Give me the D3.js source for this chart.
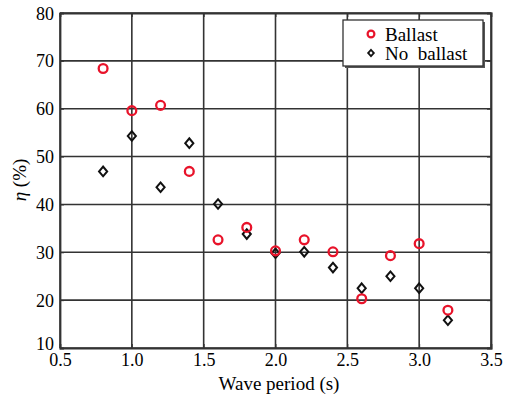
<!DOCTYPE html>
<html>
<head>
<meta charset="utf-8">
<script src="https://cdn.jsdelivr.net/npm/d3@7"></script>
<style>
  body { margin: 0; background: #fff; }
</style>
</head>
<body>
<svg id="chart" width="509" height="396"></svg>
<script>
// wave periods (s)
const periods = [0.8, 1.0, 1.2, 1.4, 1.6, 1.8, 2.0, 2.2, 2.4, 2.6, 2.8, 3.0, 3.2];
// efficiency (%) with ballast
const ballast = [68.4, 59.6, 60.7, 46.9, 32.6, 35.2, 30.3, 32.6, 30.1, 20.3, 29.3, 31.8, 17.9];
// efficiency (%) without ballast
const noBallast = [46.9, 54.3, 43.6, 52.8, 40.1, 33.8, 29.8, 30.1, 26.8, 22.5, 25.0, 22.5, 15.8];

const xTicks = [0.5, 1.0, 1.5, 2.0, 2.5, 3.0, 3.5];
const yTicks = [10, 20, 30, 40, 50, 60, 70, 80];
const seriesNames = ["Ballast", "No  ballast"];

const FONT = "'Liberation Serif', 'DejaVu Serif', serif";

const svg = d3.select("svg#chart");
const plotL = 60, plotR = 491, plotT = 13, plotB = 348;

const x = d3.scaleLinear().domain([0.5, 3.5]).range([plotL, plotR]);
const y = d3.scaleLinear().domain([10, 80]).range([plotB, plotT]);

// grid lines
const grid = svg.append("g").attr("stroke", "#333").attr("stroke-width", 1.6);
grid.selectAll(".gx").data(xTicks).enter().append("line")
    .attr("x1", d => x(d)).attr("x2", d => x(d))
    .attr("y1", plotT).attr("y2", plotB);
grid.selectAll(".gy").data(yTicks).enter().append("line")
    .attr("x1", plotL).attr("x2", plotR)
    .attr("y1", d => y(d)).attr("y2", d => y(d));

// axes
const xAxis = svg.append("g")
    .attr("transform", `translate(0,${plotB})`)
    .call(d3.axisBottom(x).tickValues(xTicks).tickFormat(d3.format(".1f")).tickSize(-4).tickPadding(5));
const yAxis = svg.append("g")
    .attr("transform", `translate(${plotL},0)`)
    .call(d3.axisLeft(y).tickValues(yTicks).tickFormat(d3.format("d")).tickSize(-4).tickPadding(6));
svg.append("g")
    .attr("transform", `translate(0,${plotT})`)
    .call(d3.axisTop(x).tickValues(xTicks).tickFormat("").tickSize(-4));
svg.append("g")
    .attr("transform", `translate(${plotR},0)`)
    .call(d3.axisRight(y).tickValues(yTicks).tickFormat("").tickSize(-4));

svg.selectAll(".domain").attr("stroke", "#333").attr("stroke-width", 1.8);
svg.selectAll(".tick line").attr("stroke", "#333");
[xAxis, yAxis].forEach(a => a.attr("font-family", FONT).attr("font-size", 18)
    .selectAll("text").attr("fill", "#000"));
xAxis.selectAll("text").attr("dy", "0.72em");
// the lowest y label sits a little higher so it clears "0.5"
yAxis.selectAll("text").attr("dy", d => d === 10 ? "0.1em" : "0.34em");

// axis titles
svg.append("text")
    .attr("x", 279).attr("y", 390)
    .attr("text-anchor", "middle")
    .attr("font-family", FONT).attr("font-size", 19).attr("fill", "#000")
    .text("Wave period (s)");
svg.append("text")
    .attr("transform", `translate(26,180) rotate(-90)`)
    .attr("text-anchor", "middle")
    .attr("font-family", FONT).attr("font-size", 19).attr("fill", "#000")
    .html('<tspan font-style="italic">η</tspan> (%)');

// markers
const diamond = d3.symbol().type(d3.symbolDiamond2).size(58);

svg.append("g").selectAll("path")
    .data(periods.map((p, i) => [p, noBallast[i]]))
    .enter().append("path")
    .attr("d", diamond)
    .attr("transform", d => `translate(${x(d[0])},${y(d[1])}) scale(0.85,1)`)
    .attr("fill", "none").attr("stroke", "#111").attr("stroke-width", 2.2);

svg.append("g").selectAll("circle")
    .data(periods.map((p, i) => [p, ballast[i]]))
    .enter().append("circle")
    .attr("cx", d => x(d[0])).attr("cy", d => y(d[1]))
    .attr("r", 4.4)
    .attr("fill", "none").attr("stroke", "#e8132a").attr("stroke-width", 2.3);

// legend
const lg = svg.append("g");
lg.append("rect").attr("x", 345).attr("y", 22).attr("width", 140).attr("height", 46)
    .attr("fill", "#555");
lg.append("rect").attr("x", 343).attr("y", 20).attr("width", 140).attr("height", 46)
    .attr("fill", "#fff").attr("stroke", "#333").attr("stroke-width", 1.3);
lg.append("circle").attr("cx", 371).attr("cy", 34).attr("r", 3.4)
    .attr("fill", "none").attr("stroke", "#e8132a").attr("stroke-width", 2.2);
lg.append("path").attr("d", d3.symbol().type(d3.symbolDiamond2).size(26))
    .attr("transform", "translate(371,53) scale(0.9,1)")
    .attr("fill", "none").attr("stroke", "#111").attr("stroke-width", 1.9);
lg.selectAll("text").data(seriesNames).enter().append("text")
    .attr("x", 385).attr("y", (d, i) => 41 + i * 19)
    .attr("font-family", FONT).attr("font-size", 19).attr("fill", "#000")
    .attr("xml:space", "preserve").style("white-space", "pre")
    .text(d => d);
</script>
</body>
</html>
